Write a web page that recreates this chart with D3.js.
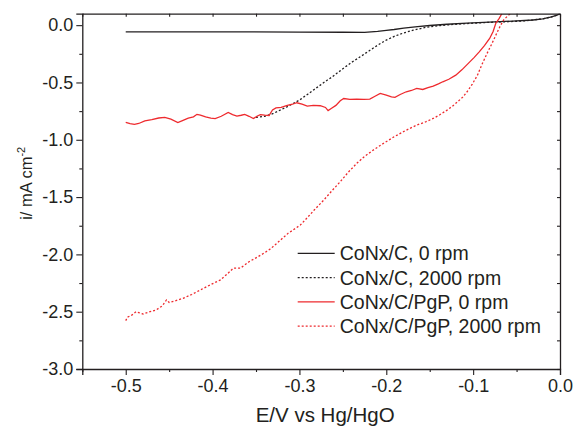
<!DOCTYPE html>
<html>
<head>
<meta charset="utf-8">
<script src="https://cdn.jsdelivr.net/npm/d3@7"></script>
<style>
  body { margin: 0; background: #fff; }
  text { font-family: Arial, "Liberation Sans", sans-serif; fill: #231f20; }
</style>
</head>
<body>
<div id="chart"></div>
<script>
// set the dimensions and margins of the graph
var margin = { top: 13.7, right: 15, bottom: 60, left: 82.3 },
    width = 575 - margin.left - margin.right,
    height = 429 - margin.top - margin.bottom;

// data: [E (V), i (mA cm-2)]
var conxC_0 = [[-0.500,-0.058],[-0.400,-0.058],[-0.300,-0.060],[-0.250,-0.062],[-0.225,-0.063],[-0.210,-0.055],
    [-0.200,-0.045],[-0.191,-0.038],[-0.180,-0.025],[-0.164,-0.013],[-0.150,-0.003],[-0.130,0.008],[-0.107,0.018],
    [-0.069,0.030],[-0.031,0.045],[-0.020,0.055],[-0.011,0.070],[-0.004,0.085],[0.000,0.100]];

var conxC_2000 = [[-0.350,-0.805],[-0.340,-0.795],[-0.330,-0.770],[-0.315,-0.715],[-0.300,-0.654],[-0.290,-0.600],
    [-0.280,-0.545],[-0.270,-0.490],[-0.262,-0.450],[-0.250,-0.380],[-0.240,-0.325],[-0.230,-0.276],[-0.220,-0.225],
    [-0.210,-0.175],[-0.200,-0.130],[-0.190,-0.095],[-0.180,-0.068],[-0.169,-0.044],[-0.155,-0.020],[-0.138,-0.003],
    [-0.120,0.008],[-0.100,0.017],[-0.080,0.025],[-0.060,0.030],[-0.040,0.038],[-0.020,0.055],[-0.008,0.075],[0.000,0.100]];

var pgp_0 = [[-0.500,-0.848],[-0.495,-0.860],[-0.490,-0.865],[-0.485,-0.858],[-0.478,-0.835],[-0.470,-0.825],
    [-0.462,-0.810],[-0.455,-0.805],[-0.448,-0.820],[-0.440,-0.850],[-0.434,-0.830],[-0.428,-0.812],[-0.422,-0.800],
    [-0.418,-0.778],[-0.414,-0.785],[-0.408,-0.800],[-0.402,-0.812],[-0.397,-0.815],[-0.390,-0.795],[-0.382,-0.762],
    [-0.377,-0.780],[-0.372,-0.793],[-0.367,-0.786],[-0.363,-0.779],[-0.358,-0.795],[-0.353,-0.815],[-0.349,-0.795],
    [-0.345,-0.780],[-0.340,-0.785],[-0.335,-0.788],[-0.331,-0.740],[-0.327,-0.722],[-0.321,-0.718],[-0.314,-0.700],
    [-0.308,-0.690],[-0.303,-0.677],[-0.297,-0.690],[-0.291,-0.706],[-0.284,-0.700],[-0.276,-0.703],[-0.270,-0.718],
    [-0.267,-0.745],[-0.263,-0.725],[-0.258,-0.700],[-0.253,-0.660],[-0.249,-0.640],[-0.242,-0.648],[-0.234,-0.645],
    [-0.226,-0.648],[-0.219,-0.645],[-0.213,-0.620],[-0.207,-0.596],[-0.200,-0.610],[-0.194,-0.625],[-0.190,-0.630],
    [-0.184,-0.605],[-0.177,-0.581],[-0.171,-0.570],[-0.165,-0.552],[-0.158,-0.561],[-0.152,-0.545],[-0.146,-0.532],
    [-0.140,-0.512],[-0.135,-0.494],[-0.128,-0.472],[-0.120,-0.436],[-0.113,-0.390],[-0.105,-0.329],[-0.099,-0.283],
    [-0.093,-0.233],[-0.087,-0.178],[-0.081,-0.116],[-0.077,-0.055],[-0.074,0.015],[-0.070,0.060],[-0.067,0.100]];

var pgp_2000 = [[-0.500,-2.578],[-0.498,-2.548],[-0.493,-2.530],[-0.488,-2.500],[-0.484,-2.510],[-0.480,-2.520],
    [-0.472,-2.500],[-0.465,-2.485],[-0.458,-2.450],[-0.453,-2.397],[-0.450,-2.420],[-0.443,-2.405],[-0.434,-2.383],
    [-0.424,-2.350],[-0.414,-2.310],[-0.403,-2.267],[-0.391,-2.223],[-0.383,-2.170],[-0.376,-2.120],[-0.368,-2.120],
    [-0.358,-2.064],[-0.350,-2.030],[-0.341,-1.990],[-0.333,-1.950],[-0.326,-1.903],[-0.313,-1.816],[-0.299,-1.744],
    [-0.291,-1.680],[-0.283,-1.613],[-0.272,-1.526],[-0.262,-1.440],[-0.253,-1.366],[-0.244,-1.285],[-0.234,-1.206],
    [-0.225,-1.145],[-0.215,-1.090],[-0.203,-1.030],[-0.191,-0.974],[-0.178,-0.920],[-0.165,-0.872],[-0.155,-0.845],
    [-0.146,-0.814],[-0.138,-0.780],[-0.130,-0.741],[-0.124,-0.708],[-0.118,-0.669],[-0.112,-0.628],[-0.107,-0.581],
    [-0.101,-0.515],[-0.095,-0.436],[-0.090,-0.345],[-0.084,-0.247],[-0.078,-0.155],[-0.073,-0.073],[-0.069,-0.010],
    [-0.065,0.044],[-0.061,0.075],[-0.057,0.100]];

var seriesNames = ['CoNx/C, 0 rpm', 'CoNx/C, 2000 rpm', 'CoNx/C/PgP, 0 rpm', 'CoNx/C/PgP, 2000 rpm'];
var seriesColors = ['#231f20', '#231f20', '#ee2a2e', '#ee2a2e'];
var seriesDotted = [false, true, false, true];
var seriesData = [conxC_0, conxC_2000, pgp_0, pgp_2000];

var xTicks = [-0.5, -0.4, -0.3, -0.2, -0.1, 0.0];
var yTicks = [0.0, -0.5, -1.0, -1.5, -2.0, -2.5, -3.0];

var svg = d3.select("#chart")
    .append("svg")
    .attr("width", width + margin.left + margin.right)
    .attr("height", height + margin.top + margin.bottom)
    .append("g")
    .attr("transform", "translate(" + margin.left + "," + margin.top + ")");

var x = d3.scaleLinear().domain([-0.55, 0]).range([0, width]);
var y = d3.scaleLinear().domain([-3.0, 0.1]).range([height, 0]);

svg.append("defs").append("clipPath").attr("id", "clip")
    .append("rect").attr("width", width).attr("height", height);

// curves
var line = d3.line().x(d => x(d[0])).y(d => y(d[1]));
var plot = svg.append("g").attr("clip-path", "url(#clip)");
[1, 0, 3, 2].forEach(function (i) {
    plot.append("path")
        .datum(seriesData[i])
        .attr("fill", "none")
        .attr("stroke", seriesColors[i])
        .attr("stroke-width", 1.3)
        .attr("stroke-dasharray", seriesDotted[i] ? "2,2" : null)
        .attr("d", line);
});

// axes
var axisColor = "#231f20";
var fmt = d => d.toFixed(1);   // plain hyphen minus like the original
function styleAxis(g) {
    g.select(".domain").attr("stroke", axisColor).attr("stroke-width", 1.3);
    g.selectAll(".tick line").attr("stroke", axisColor).attr("stroke-width", 1.1);
    g.selectAll(".tick text").style("font-size", "18px").attr("fill", axisColor);
}

var xMinor = d3.range(-0.55, 0.001, 0.05).map(v => Math.round(v * 100) / 100).filter(v => xTicks.indexOf(v) < 0);
var yMinor = d3.range(-2.75, 0.1, 0.5).map(v => Math.round(v * 100) / 100);

svg.append("g").attr("transform", "translate(0," + height + ")")
    .call(d3.axisBottom(x).tickValues(xTicks).tickFormat(fmt).tickSizeOuter(0).tickSize(6).tickPadding(4))
    .call(styleAxis);
svg.append("g").attr("transform", "translate(0," + height + ")")
    .call(d3.axisBottom(x).tickValues(xMinor).tickFormat("").tickSize(3).tickSizeOuter(0))
    .call(g => g.select(".domain").remove())
    .call(styleAxis);

svg.append("g")
    .call(d3.axisLeft(y).tickValues(yTicks).tickFormat(fmt).tickSizeOuter(0).tickSize(6).tickPadding(3))
    .call(styleAxis);
svg.append("g")
    .call(d3.axisLeft(y).tickValues(yMinor).tickFormat("").tickSize(3).tickSizeOuter(0))
    .call(g => g.select(".domain").remove())
    .call(styleAxis);

// mirrored top / right axes with small inward ticks
svg.append("g")
    .call(d3.axisBottom(x).tickValues(xTicks.concat(xMinor)).tickFormat("").tickSize(3).tickSizeOuter(0))
    .call(styleAxis);
svg.append("g").attr("transform", "translate(" + width + ",0)")
    .call(d3.axisLeft(y).tickValues(yTicks.concat(yMinor)).tickFormat("").tickSize(3).tickSizeOuter(0))
    .call(styleAxis);

// axis titles
svg.append("text")
    .attr("x", width / 2 + 4)
    .attr("y", height + 53)
    .attr("text-anchor", "middle")
    .style("font-size", "20.5px")
    .text("E/V vs Hg/HgO");

var ytitle = svg.append("text")
    .attr("transform", "translate(" + (-50) + "," + (height / 2 - 8) + ") rotate(-90)")
    .attr("text-anchor", "middle")
    .style("font-size", "16.5px");
ytitle.append("tspan").text("i/ mA cm");
ytitle.append("tspan").attr("dy", -7).style("font-size", "11px").text("-2");

// legend
var legend = svg.append("g").attr("transform", "translate(" + (297.7 - margin.left) + "," + (253.3 - margin.top) + ")");
seriesNames.forEach(function (name, i) {
    var row = legend.append("g").attr("transform", "translate(0," + (i * 24.3) + ")");
    row.append("line")
        .attr("x1", 0).attr("x2", 37).attr("y1", 0).attr("y2", 0)
        .attr("stroke", seriesColors[i])
        .attr("stroke-width", 1.3)
        .attr("stroke-dasharray", seriesDotted[i] ? "2,2" : null);
    row.append("text")
        .attr("x", 42).attr("y", 7)
        .style("font-size", "19.5px")
        .text(name);
});
</script>
</body>
</html>
